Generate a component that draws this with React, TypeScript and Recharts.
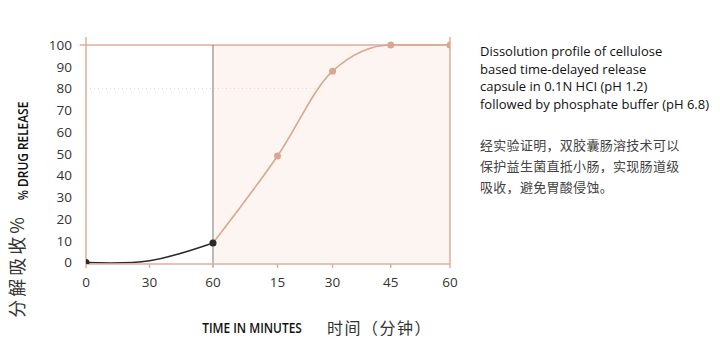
import {
  ComposedChart, Line, XAxis, YAxis, ReferenceArea, ReferenceLine,
} from 'recharts';

// x positions along the axis (acid phase 0–60 min, then buffer phase 15–60 min)
const tickPositions = [0, 30, 60, 90.5, 116.5, 144, 172];
const tickLabels = ['0', '30', '60', '15', '30', '45', '60'];
const yTicks = [0, 10, 20, 30, 40, 50, 60, 70, 80, 90, 100];

// acid phase (0.1N HCl)
const acidX = [0, 30, 60];
const acidY = [0, 0.8, 9];

// buffer phase (phosphate buffer)
const bufferX = [60, 90.5, 116.5, 144, 172];
const bufferY = [9, 49, 88, 100, 100];

const acidData = acidX.map((x, i) => ({ x, y: acidY[i] }));
const bufferData = bufferX.map((x, i) => ({ x, y: bufferY[i] }));

const ORANGE = '#d9a690';
const AXIS = '#dfae99';
const DARK = '#2b2b2b';

const labelFont = '"Open Sans", "Noto Sans", sans-serif';
const cjkFont = '"Noto Sans CJK SC", sans-serif';

export default function App() {
  const labelOf = (v: number) => tickLabels[tickPositions.indexOf(v)] ?? '';

  return (
    <div style={{ position: 'absolute', left: 0, top: 0, width: 720, height: 364, background: '#fff', fontFamily: labelFont }}>
      <ComposedChart
        width={720}
        height={364}
        margin={{ top: 37, right: 270, bottom: 70, left: 26 }}
      >
        <XAxis
          dataKey="x"
          type="number"
          domain={[0, 172]}
          ticks={tickPositions}
          tickFormatter={labelOf}
          allowDataOverflow
          stroke={AXIS}
          strokeWidth={1.5}
          tickSize={4}
          tickMargin={9}
          height={30}
          tick={{ fill: '#333', fontSize: 13.5 }}
        />
        <YAxis
          type="number"
          domain={[-0.7, 103.7]}
          ticks={yTicks}
          allowDataOverflow
          stroke={AXIS}
          strokeWidth={1.5}
          tickLine={false}
          tickMargin={8}
          width={60}
          tick={{ fill: '#333', fontSize: 13.5 }}
        />
        <ReferenceArea x1={60} x2={172} y1={0} y2={100} fill="#fcf5f1" fillOpacity={1} stroke="none" />
        <ReferenceLine
          segment={[{ x: 0, y: 80 }, { x: 111, y: 80 }]}
          stroke="#ecd6ca"
          strokeDasharray="1 3"
        />
        <ReferenceLine
          segment={[{ x: -3, y: 100 }, { x: 172, y: 100 }]}
          ifOverflow="visible"
          stroke={AXIS}
          strokeWidth={1.5}
        />
        <ReferenceLine x={172} stroke={AXIS} strokeWidth={1.5} />
        <ReferenceLine
          segment={[{ x: 60, y: -2 }, { x: 60, y: 100 }]}
          ifOverflow="visible"
          stroke="#7a7a7a"
          strokeWidth={1}
        />
        <Line
          data={bufferData}
          dataKey="y"
          type="monotone"
          stroke={ORANGE}
          strokeWidth={1.6}
          dot={{ r: 3.5, fill: ORANGE, stroke: 'none' }}
          isAnimationActive={false}
        />
        <Line
          data={acidData}
          dataKey="y"
          type="natural"
          stroke={DARK}
          strokeWidth={1.6}
          dot={(p: any) =>
            p.index === 1 ? <g key={p.key} /> : <circle key={p.key} cx={p.cx} cy={p.cy} r={3.5} fill={DARK} />
          }
          isAnimationActive={false}
        />
      </ComposedChart>

      <div style={{ position: 'absolute', left: 22, top: 151, transform: 'translate(-50%, -50%) rotate(-90deg) scaleX(0.82)', whiteSpace: 'nowrap', fontSize: 14.5, fontWeight: 600, color: '#111' }}>
        % DRUG RELEASE
      </div>
      <div style={{ position: 'absolute', left: 16, top: 266, transform: 'translate(-50%, -50%) rotate(-90deg)', whiteSpace: 'nowrap', fontSize: 18, letterSpacing: 3, color: '#333', fontFamily: cjkFont }}>
        分解吸收%
      </div>

      <div style={{ position: 'absolute', left: 252, top: 327, transform: 'translate(-50%, -50%) scaleX(0.82)', whiteSpace: 'nowrap', fontSize: 14.5, fontWeight: 600, color: '#111' }}>
        TIME IN MINUTES
      </div>
      <div style={{ position: 'absolute', left: 327, top: 315, whiteSpace: 'nowrap', fontSize: 16, letterSpacing: 1.5, color: '#333', fontFamily: cjkFont }}>
        时间（分钟）
      </div>

      <div style={{ position: 'absolute', left: 480, top: 43, fontSize: 13, lineHeight: '17.5px', color: '#111', whiteSpace: 'nowrap' }}>
        <div>Dissolution profile of cellulose</div>
        <div>based time-delayed release</div>
        <div>capsule in 0.1N HCI (pH 1.2)</div>
        <div>followed by phosphate buffer (pH 6.8)</div>
      </div>
      <div style={{ position: 'absolute', left: 480, top: 134, fontSize: 13, lineHeight: '21px', letterSpacing: 0.3, color: '#444', whiteSpace: 'nowrap', fontFamily: cjkFont }}>
        <div>经实验证明，双胶囊肠溶技术可以</div>
        <div>保护益生菌直抵小肠，实现肠道级</div>
        <div>吸收，避免胃酸侵蚀。</div>
      </div>
    </div>
  );
}
